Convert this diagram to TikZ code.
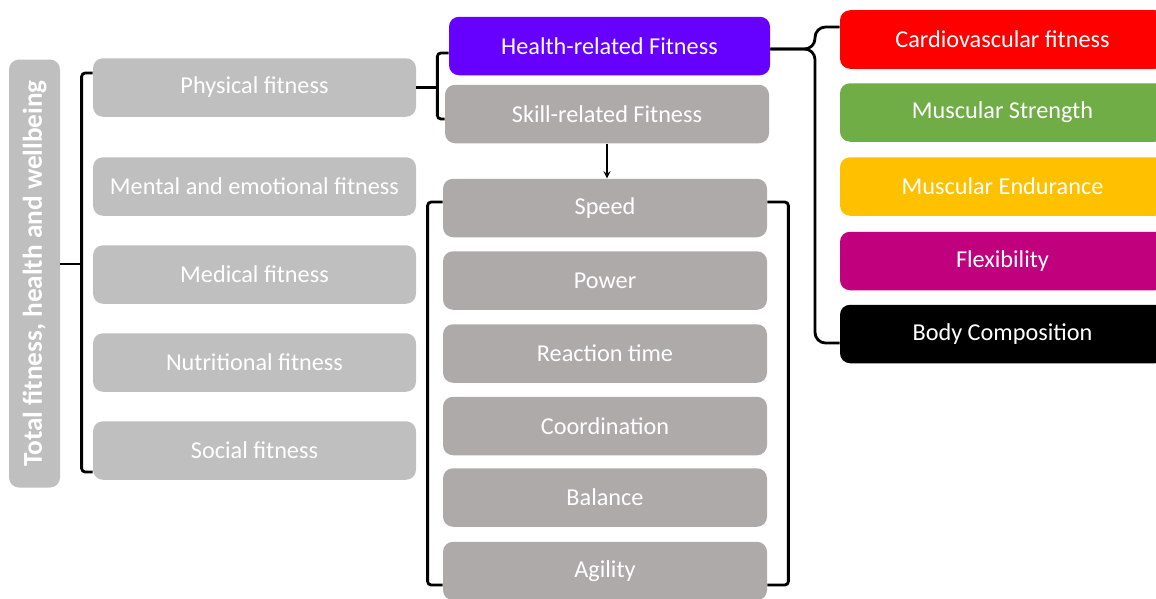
\documentclass[tikz,border=0pt]{standalone}
\usepackage{fontspec}
\setmainfont{Carlito}
\usepackage{graphicx}
\usetikzlibrary{positioning,arrows}

\definecolor{lightgrey}{HTML}{BFBFBF}
\definecolor{midgrey}{HTML}{AEAAAA}
\definecolor{violet}{HTML}{6600FF}
\definecolor{cardio}{HTML}{FF0000}
\definecolor{strength}{HTML}{70AD47}
\definecolor{endurance}{HTML}{FFC000}
\definecolor{flex}{HTML}{C0007C}

\begin{document}
\begin{tikzpicture}[auto]

		\tikzstyle{box} = [rectangle, rounded corners=0.2cm, minimum height=1.17cm, align=center, inner sep=0pt, text=white, font=\fontsize{13.8}{16}\selectfont]
		\tikzstyle{topic} = [box, fill=lightgrey, minimum width=6.46cm]
		\tikzstyle{skillbox} = [box, fill=midgrey, minimum width=6.48cm]
		\tikzstyle{component} = [box, minimum width=6.5cm]
		\tikzstyle{bracket} = [line width=1.6pt, draw=black, rounded corners=2pt]
		\tikzstyle{flow} = [->, >=stealth, thick, draw=black]

		\clip (0,0) rectangle (23.12,-11.98);

		\node[box, fill=lightgrey, minimum width=1.02cm, minimum height=8.56cm, font=\fontsize{15.5}{18}\selectfont\bfseries] (total) at (0.69,-5.47) {\rotatebox{90}{Total fitness, health and wellbeing}};

		\node[topic] (physical) at (5.09,-1.75) {Physical fitness};
		\node[topic] (mental) at (5.09,-3.73) {Mental and emotional fitness};
		\node[topic] (medical) at (5.09,-5.49) {Medical fitness};
		\node[topic] (nutrition) at (5.09,-7.25) {Nutritional fitness};
		\node[topic] (social) at (5.09,-9.01) {Social fitness};

		\node[box, fill=violet, minimum width=6.42cm] (health) at (12.19,-0.92) {Health-related Fitness};
		\node[skillbox] (skill) at (12.14,-2.28) {Skill-related Fitness};

		\node[skillbox] (speed) at (12.10,-4.16) {Speed};
		\node[skillbox] (power) at (12.10,-5.61) {Power};
		\node[skillbox] (reaction) at (12.10,-7.07) {Reaction time};
		\node[skillbox] (coord) at (12.10,-8.52) {Coordination};
		\node[skillbox] (balance) at (12.10,-9.95) {Balance};
		\node[skillbox] (agility) at (12.10,-11.42) {Agility};

		\node[component, fill=cardio] (cardio) at (20.05,-0.79) {Cardiovascular fitness};
		\node[component, fill=strength] (strength) at (20.05,-2.25) {Muscular Strength};
		\node[component, fill=endurance] (endurance) at (20.05,-3.73) {Muscular Endurance};
		\node[component, fill=flex] (flexibility) at (20.05,-5.22) {Flexibility};
		\node[component, fill=black] (body) at (20.05,-6.68) {Body Composition};

		\draw[bracket] ([yshift=0.19cm]total.east) -- ++(0.44,0);
		\draw[bracket] ([yshift=0.29cm]physical.west) -- ++(-0.22,0) |- ([yshift=-0.43cm]social.west);

		\draw[bracket] (physical.east) -- ++(0.42,0) coordinate (split);
		\draw[bracket] ([yshift=-0.14cm]health.west) -| (split) |- ([yshift=-0.10cm]skill.west);

		\coordinate (hbrace) at (16.30,-0.98);
		\draw[bracket, rounded corners=6pt] ([yshift=0.25cm]cardio.west) -| (hbrace) -- (health.east |- hbrace);
		\draw[bracket, rounded corners=6pt] ([yshift=-0.18cm]body.west) -| (hbrace) -- (health.east |- hbrace);

		\draw[flow] (skill.south) -- (skill.south |- speed.north);

		\draw[bracket] ([yshift=0.12cm]speed.west) -- ++(-0.30,0) |- ([yshift=-0.28cm]agility.west);
		\draw[bracket] ([yshift=0.12cm]speed.east) -- ++(0.42,0) |- ([yshift=-0.28cm]agility.east);

	\end{tikzpicture}
\end{document}
